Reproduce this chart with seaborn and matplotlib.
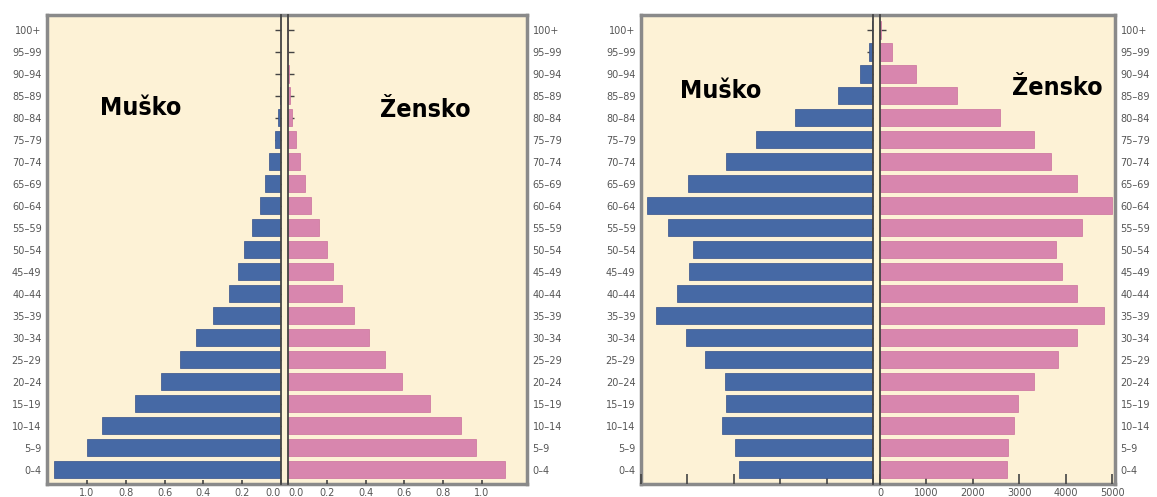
import pandas as pd
import matplotlib.pyplot as plt
import seaborn as sns

sns.set_style("ticks")
plt.rcParams["font.family"] = ["Liberation Sans Narrow", "DejaVu Sans"]

age_groups = ["100+", "95–99", "90–94", "85–89", "80–84", "75–79", "70–74", "65–69",
              "60–64", "55–59", "50–54", "45–49", "40–44", "35–39", "30–34", "25–29",
              "20–24", "15–19", "10–14", "5–9", "0–4"]

# left pyramid (relative shares)
male_a = [0.0, 0.001, 0.002, 0.005, 0.015, 0.03, 0.06, 0.08, 0.11, 0.15, 0.19,
          0.22, 0.27, 0.35, 0.44, 0.52, 0.62, 0.75, 0.92, 1.00, 1.17]
female_a = [0.0, 0.001, 0.003, 0.008, 0.02, 0.04, 0.06, 0.09, 0.12, 0.16, 0.20,
            0.23, 0.28, 0.34, 0.42, 0.50, 0.59, 0.73, 0.89, 0.97, 1.12]

# right pyramid (persons)
male_b = [20, 80, 280, 750, 1680, 2520, 3160, 3980, 4880, 4410, 3870,
          3960, 4220, 4670, 4020, 3630, 3200, 3160, 3250, 2970, 2880]
female_b = [30, 260, 770, 1660, 2580, 3310, 3680, 4240, 5000, 4340, 3780,
            3910, 4240, 4820, 4240, 3830, 3310, 2970, 2880, 2750, 2730]

left_ticks = [0.0, 0.2, 0.4, 0.6, 0.8, 1.0]
right_ticks = [0, 1000, 2000, 3000, 4000, 5000]

MALE = "#4669a5"
FEMALE = "#d886ae"
CREAM = "#fdf2d6"
LABEL = "#555555"

W, H = 1157, 497
fig = plt.figure(figsize=(W / 100, H / 100), dpi=100)


def rect(x0, x1, y0=15, y1=484):
    return [x0 / W, (H - y1) / H, (x1 - x0) / W, (y1 - y0) / H]


YLIM = (20.65, -0.68)


def pyramid(x0, xm, xf, x1, male, female, mlim, flim, ticks, male_labels, tlen):
    frame = fig.add_axes(rect(x0, x1))
    frame.set_facecolor(CREAM)
    frame.set_xticks([])
    frame.set_ylim(*YLIM)
    frame.set_yticks(range(len(age_groups)))
    frame.set_yticklabels(age_groups)
    frame.tick_params(axis="y", length=0, labelleft=True, labelright=True,
                      labelsize=7, labelcolor=LABEL, pad=4)
    for s in frame.spines.values():
        s.set_color("#8a8a8a")
        s.set_linewidth(2.5)

    df = pd.DataFrame({"age": age_groups, "male": male, "female": female})

    axm = fig.add_axes(rect(x0, xm))
    sns.barplot(data=df, x="male", y="age", order=age_groups, orient="h",
                color=MALE, width=0.78, edgecolor="#34508a", linewidth=0.5,
                saturation=1, ax=axm)
    axm.set_xlim(mlim, 0)
    axf = fig.add_axes(rect(xf, x1))
    sns.barplot(data=df, x="female", y="age", order=age_groups, orient="h",
                color=FEMALE, width=0.78, edgecolor="#c9709c", linewidth=0.5,
                saturation=1, ax=axf)
    axf.set_xlim(0, flim)

    for ax, side in ((axm, "right"), (axf, "left")):
        ax.patch.set_alpha(0)
        ax.set_axisbelow(True)
        ax.set_ylim(*YLIM)
        ax.set_xlabel("")
        ax.set_ylabel("")
        ax.set_xticks(ticks)
        for k, s in ax.spines.items():
            s.set_visible(k == side)
        ax.spines[side].set_color("#444444")
        ax.spines[side].set_linewidth(1.3)
        if side == "right":
            ax.yaxis.tick_right()
        ax.set_yticks(range(len(age_groups)))
        ax.set_yticklabels([])
        ax.tick_params(axis="y", direction="in", length=4, width=1, color="#444444")
        ax.tick_params(axis="x", direction="in", length=tlen, width=1.2, color="#444444",
                       labelsize=7, labelcolor=LABEL, pad=3)
    if male_labels:
        axm.set_xticklabels([f"{t:.1f}" for t in ticks])
        axf.set_xticklabels([f"{t:.1f}" for t in ticks])
        axm.get_xticklabels()[0].set_ha("right")
        axf.get_xticklabels()[0].set_ha("left")
    else:
        axm.set_xticklabels([])
        axf.set_xticklabels([str(t) for t in ticks])


pyramid(47, 281, 288, 527, male_a, female_a, 1.206, 1.232, left_ticks, True, 3)
pyramid(641, 873, 880, 1115, male_b, female_b, 5000, 5060, right_ticks, False, 7)

title_kw = dict(fontsize=18, fontweight="bold", fontstretch="condensed", color="black",
                ha="center", va="center",
                family=["DejaVu Sans Condensed", "Liberation Sans Narrow", "DejaVu Sans"])
fig.text(141 / W, 1 - 108 / H, "Muško", **title_kw)
fig.text(425 / W, 1 - 110 / H, "Žensko", **title_kw)
fig.text(721 / W, 1 - 91 / H, "Muško", **title_kw)
fig.text(1057 / W, 1 - 88 / H, "Žensko", **title_kw)

fig.savefig("out.png", dpi=100)
